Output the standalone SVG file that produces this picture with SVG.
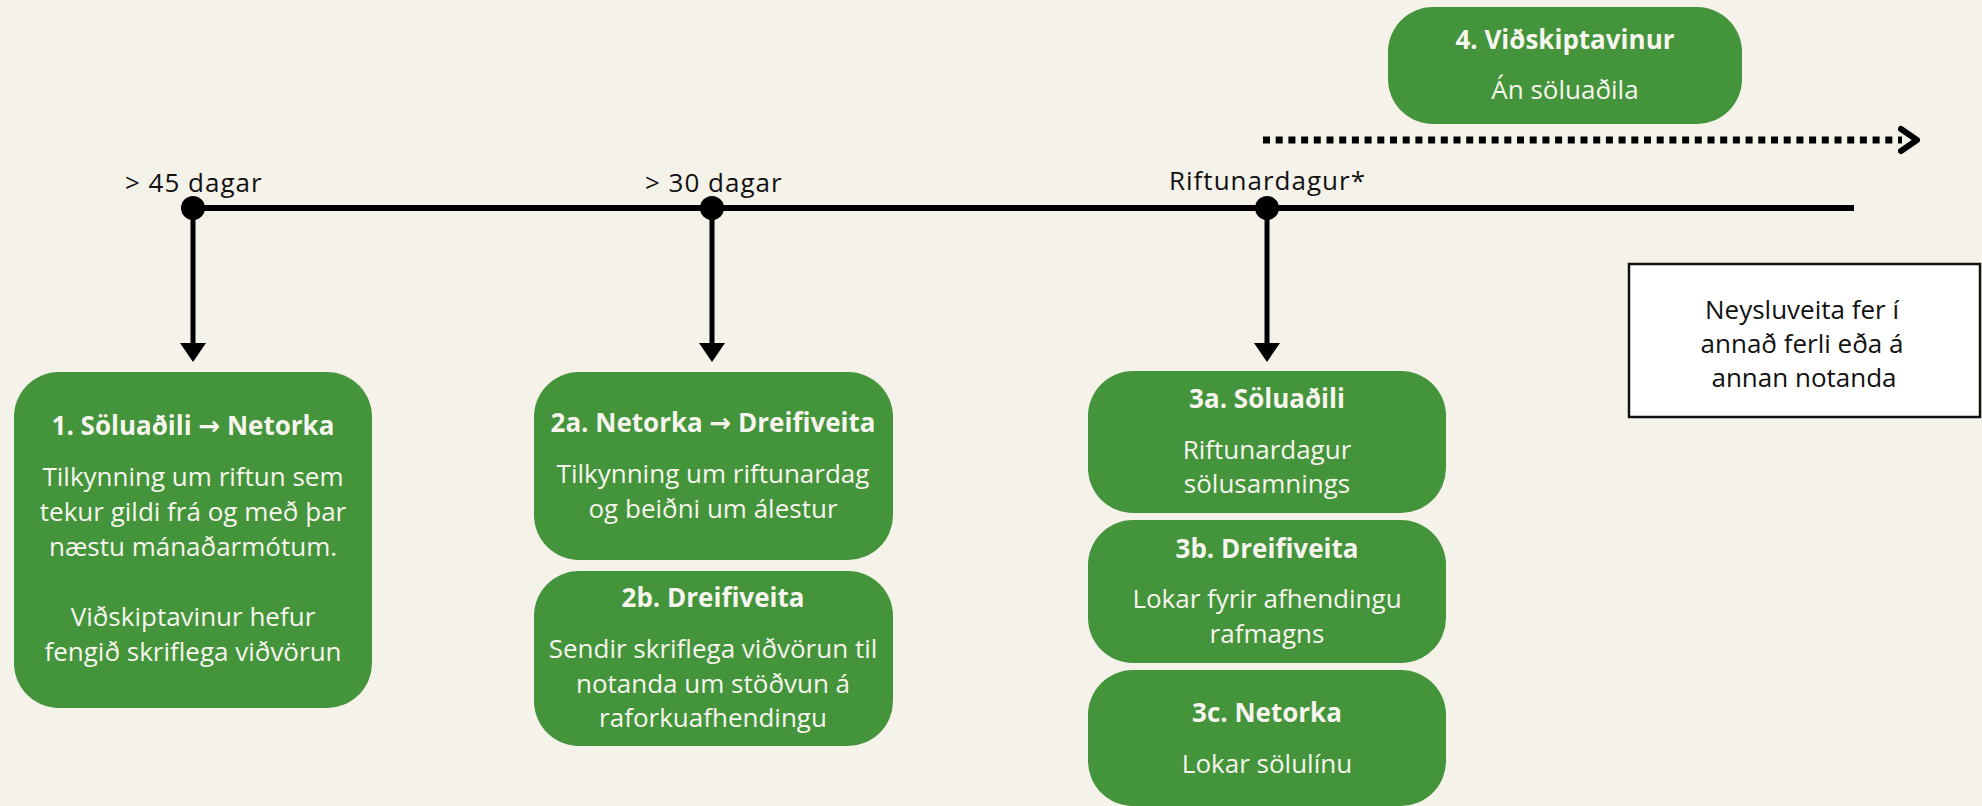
<svg xmlns="http://www.w3.org/2000/svg" width="1982" height="806" viewBox="0 0 1982 806">
<defs>
<style>
.bg{fill:#F5F2EA}
.box{fill:#43943B}
.t{font-family:"Open Sans","DejaVu Sans",sans-serif;font-size:26px;fill:#F7F5EE;text-anchor:middle}
.tb{font-weight:bold}
.lbl{font-family:"Open Sans","Liberation Sans",sans-serif;font-size:26px;letter-spacing:1px;fill:#111111}
.note{font-family:"Open Sans","Liberation Sans",sans-serif;font-size:26px;fill:#111111;text-anchor:middle}
.ln{stroke:#000;fill:none}
</style>
<marker id="tri" viewBox="0 0 19 26" refX="0" refY="13" markerWidth="19" markerHeight="26" markerUnits="userSpaceOnUse" orient="auto">
<path d="M0,0 L19,13 L0,26 Z" fill="#000"/>
</marker>
<marker id="chev" viewBox="0 0 24 30" refX="4" refY="15" markerWidth="24" markerHeight="30" markerUnits="userSpaceOnUse" orient="auto">
<path d="M3,4 L19,15 L3,26" fill="none" stroke="#000" stroke-width="6" stroke-linecap="round" stroke-linejoin="round"/>
</marker>
</defs>
<rect class="bg" x="0" y="0" width="1982" height="806"/>

<g id="connectors">
<line class="ln" x1="193" y1="208" x2="1854" y2="208" stroke-width="6"/>
<line class="ln" x1="193" y1="208" x2="193" y2="343" stroke-width="5" marker-end="url(#tri)"/>
<line class="ln" x1="712" y1="208" x2="712" y2="343" stroke-width="5" marker-end="url(#tri)"/>
<line class="ln" x1="1267" y1="208" x2="1267" y2="343" stroke-width="5" marker-end="url(#tri)"/>
<line class="ln" x1="1263" y1="140" x2="1902" y2="140" stroke-width="7" stroke-dasharray="7 5.7" marker-end="url(#chev)"/>
<circle cx="193" cy="208" r="12" fill="#000"/>
<circle cx="712" cy="208" r="12" fill="#000"/>
<circle cx="1267" cy="208" r="12" fill="#000"/>
</g>

<g id="label-45">
<text class="lbl" x="125" y="192">&gt; 45 dagar</text>
</g>
<g id="label-30">
<text class="lbl" x="645" y="192">&gt; 30 dagar</text>
</g>
<g id="label-rift">
<text class="lbl" x="1169" y="190">Riftunardagur*</text>
</g>

<g id="node-1">
<rect class="box" x="14" y="372" width="358" height="336" rx="45"/>
<text class="t tb" x="193" y="435">1. Söluaðili → Netorka</text>
<text class="t" x="193" y="486">Tilkynning um riftun sem</text>
<text class="t" x="193" y="521">tekur gildi frá og með þar</text>
<text class="t" x="193" y="556">næstu mánaðarmótum.</text>
<text class="t" x="193" y="626">Viðskiptavinur hefur</text>
<text class="t" x="193" y="661">fengið skriflega viðvörun</text>
</g>

<g id="node-2a">
<rect class="box" x="534" y="372" width="359" height="188" rx="45"/>
<text class="t tb" x="713" y="432">2a. Netorka → Dreifiveita</text>
<text class="t" x="713" y="483">Tilkynning um riftunardag</text>
<text class="t" x="713" y="518">og beiðni um álestur</text>
</g>

<g id="node-2b">
<rect class="box" x="534" y="571" width="359" height="175" rx="45"/>
<text class="t tb" x="713" y="607">2b. Dreifiveita</text>
<text class="t" x="713" y="658">Sendir skriflega viðvörun til</text>
<text class="t" x="713" y="693">notanda um stöðvun á</text>
<text class="t" x="713" y="727">raforkuafhendingu</text>
</g>

<g id="node-3a">
<rect class="box" x="1088" y="371" width="358" height="142" rx="45"/>
<text class="t tb" x="1267" y="408">3a. Söluaðili</text>
<text class="t" x="1267" y="459">Riftunardagur</text>
<text class="t" x="1267" y="493">sölusamnings</text>
</g>

<g id="node-3b">
<rect class="box" x="1088" y="520" width="358" height="143" rx="45"/>
<text class="t tb" x="1267" y="558">3b. Dreifiveita</text>
<text class="t" x="1267" y="608">Lokar fyrir afhendingu</text>
<text class="t" x="1267" y="643">rafmagns</text>
</g>

<g id="node-3c">
<rect class="box" x="1088" y="670" width="358" height="136" rx="45"/>
<text class="t tb" x="1267" y="722">3c. Netorka</text>
<text class="t" x="1267" y="773">Lokar sölulínu</text>
</g>

<g id="node-4">
<rect class="box" x="1388" y="7" width="354" height="117" rx="45"/>
<text class="t tb" x="1565" y="49">4. Viðskiptavinur</text>
<text class="t" x="1565" y="99">Án söluaðila</text>
</g>

<g id="node-note">
<rect x="1629" y="264" width="351" height="153" fill="#FFFFFF" stroke="#111" stroke-width="2.5"/>
<text class="note" x="1802" y="319">Neysluveita fer í</text>
<text class="note" x="1802" y="353">annað ferli eða á</text>
<text class="note" x="1804" y="387">annan notanda</text>
</g>
</svg>
